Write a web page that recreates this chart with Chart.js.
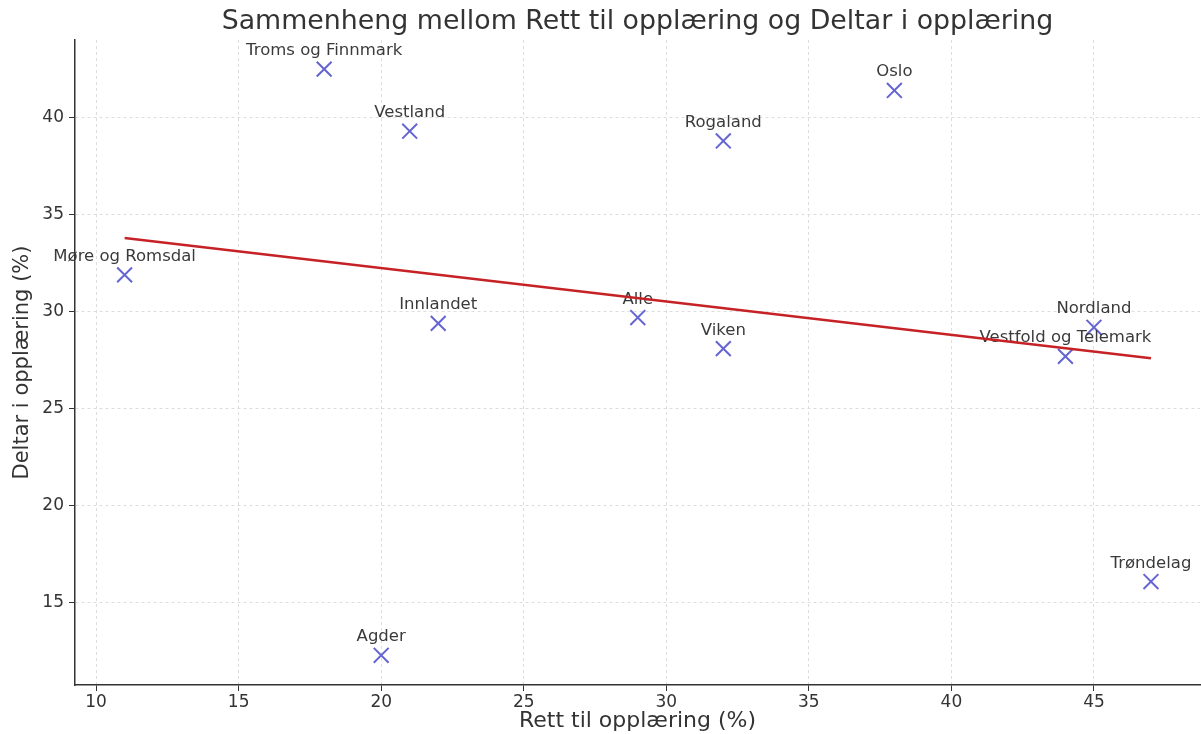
<!DOCTYPE html>
<html>
<head>
<meta charset="utf-8">
<script src="https://cdn.jsdelivr.net/npm/chart.js@4"></script>
<style>
    html, body { margin: 0; padding: 0; background: #fff; overflow: hidden; }
    canvas { display: block; }
</style>
</head>
<body>
<canvas id="chart-scatter" width="1201" height="734"></canvas>
<script>
const regions = ['Troms og Finnmark', 'Vestland', 'Oslo', 'Rogaland', 'Møre og Romsdal', 'Innlandet',
    'Alle', 'Viken', 'Nordland', 'Vestfold og Telemark', 'Trøndelag', 'Agder'];
const rettTil = [18, 21, 38, 32, 11, 22, 29, 32, 45, 44, 47, 20];
const deltar = [42.5, 39.3, 41.4, 38.8, 31.9, 29.4, 29.7, 28.1, 29.2, 27.7, 16.1, 12.3];
const trendX = [11, 47];
const trendY = [33.8, 27.6];
const xTicks = [10, 15, 20, 25, 30, 35, 40, 45];
const yTicks = [15, 20, 25, 30, 35, 40];

const FONT = "'DejaVu Sans', sans-serif";
const TEXT = '#333';

// names above each cross
const pointLabels = {
    id: 'pointLabels',
    afterDatasetDraw(chart, args) {
        if (args.index !== 0) return;
        const ctx = chart.ctx;
        const meta = chart.getDatasetMeta(0);
        ctx.save();
        ctx.font = '16.5px ' + FONT;
        ctx.fillStyle = '#3a3a3a';
        ctx.textAlign = 'center';
        ctx.textBaseline = 'alphabetic';
        meta.data.forEach((pt, i) => {
            ctx.fillText(regions[i], pt.x, pt.y - 14);
        });
        ctx.restore();
    }
};

// title centred over the plot area, like matplotlib
const plotTitle = {
    id: 'plotTitle',
    afterDraw(chart) {
        const ctx = chart.ctx;
        const area = chart.chartArea;
        ctx.save();
        ctx.font = '26.8px ' + FONT;
        ctx.fillStyle = TEXT;
        ctx.textAlign = 'center';
        ctx.textBaseline = 'middle';
        ctx.fillText('Sammenheng mellom Rett til opplæring og Deltar i opplæring', (area.left + area.right) / 2, 22);
        ctx.restore();
    }
};

document.addEventListener('DOMContentLoaded', function () {
    const ctx = document.getElementById('chart-scatter').getContext('2d');
    new Chart(ctx, {
        type: 'scatter',
        data: {
            datasets: [{
                label: 'Fylker',
                data: rettTil.map((x, i) => ({ x: x, y: deltar[i] })),
                pointStyle: 'crossRot',
                pointRadius: 10.5,
                pointHoverRadius: 10.5,
                borderColor: '#6464d2',
                backgroundColor: '#6464d2',
                pointBorderWidth: 2,
                clip: false,
                order: 2
            }, {
                type: 'line',
                label: 'Trend',
                data: trendX.map((x, i) => ({ x: x, y: trendY[i] })),
                borderColor: '#c62226',
                borderWidth: 2.5,
                pointRadius: 0,
                fill: false,
                order: 1
            }]
        },
        options: {
            responsive: false,
            animation: false,
            layout: { autoPadding: false, padding: { top: 40, right: 1, left: 0, bottom: 0 } },
            plugins: {
                legend: { display: false },
                title: { display: false },
                tooltip: { enabled: false }
            },
            scales: {
                x: {
                    type: 'linear',
                    min: 9.26,
                    max: 48.72,
                    afterBuildTicks: scale => { scale.ticks = xTicks.map(v => ({ value: v })); },
                    afterFit: scale => { scale.height = 49; scale.paddingLeft = 0; scale.paddingRight = 0; },
                    grid: { color: '#dddddd', tickColor: TEXT, tickLength: 6, lineWidth: 1 },
                    border: { color: TEXT, width: 1.5, dash: [3, 3] },
                    ticks: { color: TEXT, font: { family: FONT, size: 17 }, padding: 1, maxRotation: 0 },
                    title: { display: true, text: 'Rett til opplæring (%)', color: TEXT, font: { family: FONT, size: 22 }, padding: { top: 0, bottom: 0 } }
                },
                y: {
                    type: 'linear',
                    min: 10.77,
                    max: 44.0,
                    afterBuildTicks: scale => { scale.ticks = yTicks.map(v => ({ value: v })); },
                    afterFit: scale => { scale.width = 75; scale.paddingTop = 0; scale.paddingBottom = 0; },
                    grid: { color: '#dddddd', tickColor: TEXT, tickLength: 6, lineWidth: 1 },
                    border: { color: TEXT, width: 1.5, dash: [3, 3] },
                    ticks: { color: TEXT, font: { family: FONT, size: 17 }, padding: 5 },
                    title: { display: true, text: 'Deltar i opplæring (%)', color: TEXT, font: { family: FONT, size: 21 }, padding: { top: 10, bottom: 0 } }
                }
            }
        },
        plugins: [pointLabels, plotTitle]
    });
});
</script>
</body>
</html>
